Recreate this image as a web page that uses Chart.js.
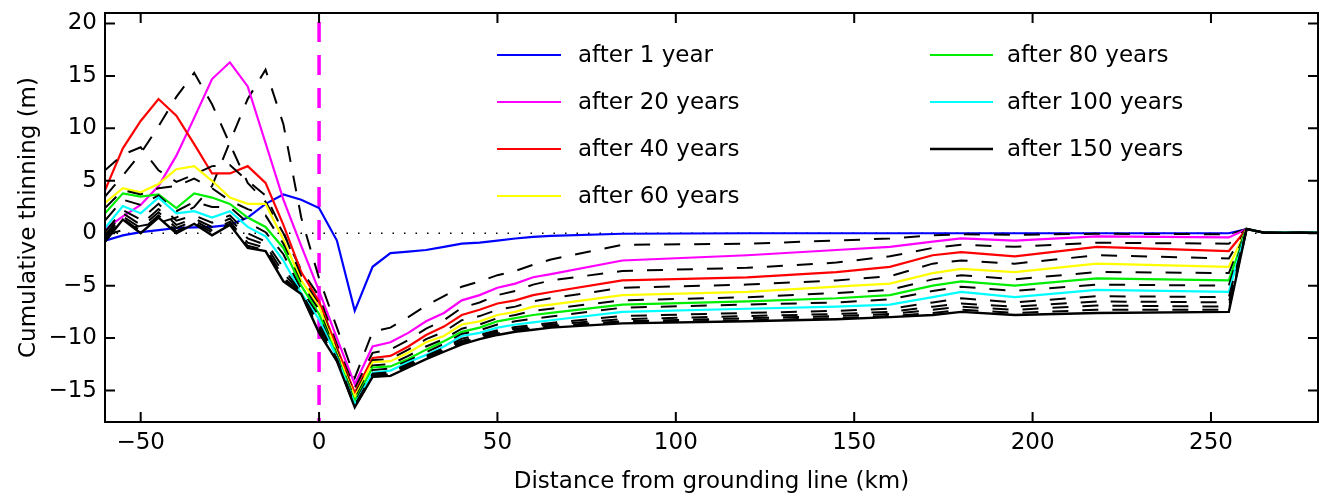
<!DOCTYPE html>
<html><head><meta charset="utf-8">
<script src="https://cdn.jsdelivr.net/npm/chart.js@4.4.1/dist/chart.umd.min.js"></script>
<style>html,body{margin:0;padding:0;background:#fff;overflow:hidden}#wrap{position:relative;width:1319px;height:496px}</style>
</head><body><div id="wrap"><canvas id="c" width="1319" height="496"></canvas></div>
<script>
// distance from grounding line (km)
const X_KM = [-60,-55,-50,-45,-40,-35,-30,-25,-20,-15,-10,-5,0,
  5,10,15,20,25,30,35,40,45,50,55,60,65,
  85,120,145,160,172,180,195,218,255,
  260,265,280];
const X_TICKS = [-50,0,50,100,150,200,250];
const Y_TICKS = [-15,-10,-5,0,5,10,15,20];

// cumulative thinning (m) after N years
const T1 = [-0.7,-0.2,0.1,0.3,0.5,0.55,0.6,0.8,1.5,2.8,3.7,3.2,2.4,
  -0.7,-7.4,-3.2,-1.9,-1.75,-1.6,-1.3,-1.0,-0.9,-0.7,-0.5,-0.35,-0.25,
  -0.05,0,0,0,0,0,0,0,0, 0.4,0.05,0.05];
const T10 = [-0.2,0.3,0.7,1.0,1.5,2.5,4.5,8.7,12.8,15.6,10.4,1.5,-4.3,
  -9.0,-13.8,-9.4,-9.0,-8.0,-6.9,-6.0,-5.1,-4.6,-4.0,-3.6,-3.0,-2.5,
  -1.1,-1.0,-0.7,-0.5,-0.2,-0.1,-0.15,-0.05,-0.1, 0.4,0.05,0.05];
const T20 = [0.4,1.6,2.7,4.5,7.4,11.0,14.7,16.3,14.0,8.6,3.2,-1.2,-5.5,
  -10.0,-14.4,-10.8,-10.4,-9.5,-8.4,-7.6,-6.4,-5.9,-5.2,-4.8,-4.2,-3.9,
  -2.6,-2.1,-1.6,-1.3,-0.8,-0.5,-0.7,-0.3,-0.4, 0.4,0.05,0.05];
const T30 = [3.5,5.5,7.6,10.2,13.0,15.3,12.3,8.5,4.8,3.0,0.0,-3.5,-6.0,
  -10.6,-14.8,-11.4,-11.1,-10.2,-9.1,-8.3,-7.1,-6.6,-5.9,-5.5,-4.9,-4.5,
  -3.6,-3.3,-2.8,-2.2,-1.4,-1.1,-1.3,-0.9,-1.0, 0.4,0.05,0.05];
const T40 = [4.1,8.1,10.7,12.8,11.2,8.5,5.7,5.7,6.4,4.8,0.8,-3.7,-6.5,
  -10.9,-15.2,-11.9,-11.7,-10.8,-9.7,-8.9,-7.8,-7.3,-6.7,-6.4,-5.9,-5.6,
  -4.5,-4.2,-3.7,-3.2,-2.1,-1.8,-2.2,-1.3,-1.7, 0.4,0.05,0.05];
const T50 = [6.0,7.5,8.2,6.0,4.9,5.6,6.4,6.5,5.0,3.6,0.1,-4.1,-6.8,
  -11.2,-15.4,-12.1,-12.0,-11.1,-10.1,-9.4,-8.3,-7.9,-7.3,-7.0,-6.5,-6.2,
  -5.2,-4.9,-4.5,-4.1,-2.9,-2.6,-2.9,-2.1,-2.4, 0.4,0.05,0.05];
const T60 = [2.9,4.3,3.9,4.7,6.1,6.4,5.0,3.4,2.8,2.8,-0.6,-4.5,-7.0,
  -11.4,-15.6,-12.3,-12.2,-11.4,-10.4,-9.8,-8.7,-8.4,-7.8,-7.5,-7.0,-6.8,
  -5.9,-5.6,-5.1,-4.8,-3.8,-3.4,-3.7,-2.9,-3.2, 0.4,0.05,0.05];
const T70 = [2.4,4.1,3.7,4.3,4.5,5.2,4.3,3.1,2.3,1.7,-1.0,-4.8,-7.3,
  -11.6,-15.8,-12.6,-12.5,-11.7,-10.8,-10.1,-9.1,-8.7,-8.1,-7.8,-7.4,-7.2,
  -6.4,-6.1,-5.7,-5.4,-4.4,-4.0,-4.4,-3.7,-3.8, 0.4,0.05,0.05];
const T80 = [1.9,3.8,3.5,3.7,2.4,3.8,3.4,2.8,1.5,0.6,-1.4,-5.0,-7.7,
  -11.7,-16.0,-12.8,-12.7,-12.0,-11.1,-10.3,-9.4,-9.0,-8.4,-8.1,-7.8,-7.6,
  -6.8,-6.5,-6.2,-5.9,-5.0,-4.6,-5.0,-4.3,-4.5, 0.4,0.05,0.05];
const T90 = [1.2,3.2,2.7,3.6,2.1,3.0,2.5,2.5,1.0,0.1,-2.0,-5.4,-7.9,
  -11.8,-16.15,-13.05,-12.9,-12.15,-11.35,-10.55,-9.6,-9.25,-8.7,-8.4,-8.15,-7.95,
  -7.1,-6.8,-6.6,-6.3,-5.5,-5.1,-5.5,-4.9,-5.0, 0.4,0.05,0.05];
const T100 = [0.5,2.6,1.9,3.4,1.9,2.1,1.5,2.1,0.6,-0.3,-2.6,-5.7,-8.2,
  -11.9,-16.3,-13.3,-13.1,-12.3,-11.6,-10.8,-9.8,-9.5,-9.0,-8.7,-8.5,-8.3,
  -7.5,-7.2,-7.0,-6.8,-6.1,-5.6,-6.1,-5.4,-5.6, 0.4,0.05,0.05];
const T110 = [0.1,2.2,1.3,2.8,1.2,1.7,1.0,1.7,0.0,-0.8,-3.3,-5.7,-8.6,
  -12.0,-16.4,-13.4,-13.25,-12.45,-11.7,-10.95,-10.05,-9.7,-9.25,-8.95,-8.75,-8.55,
  -7.9,-7.6,-7.4,-7.2,-6.6,-6.2,-6.6,-6.0,-6.1, 0.4,0.05,0.05];
const T120 = [-0.2,1.9,0.8,2.3,0.8,1.4,0.6,1.4,-0.5,-1.1,-3.8,-5.7,-8.9,
  -12.05,-16.45,-13.5,-13.35,-12.55,-11.8,-11.05,-10.25,-9.85,-9.4,-9.1,-8.9,-8.7,
  -8.2,-7.9,-7.7,-7.5,-7.0,-6.7,-7.0,-6.5,-6.6, 0.4,0.05,0.05];
const T130 = [-0.4,1.6,0.5,2.0,0.5,1.2,0.3,1.1,-0.9,-1.4,-4.2,-5.8,-9.2,
  -12.1,-16.5,-13.55,-13.45,-12.65,-11.9,-11.15,-10.4,-9.95,-9.55,-9.25,-9.05,-8.85,
  -8.4,-8.1,-7.9,-7.7,-7.3,-7.0,-7.3,-6.9,-7.0, 0.4,0.05,0.05];
const T140 = [-0.6,1.4,0.2,1.7,0.2,1.0,0.1,0.9,-1.2,-1.6,-4.4,-5.8,-9.4,
  -12.15,-16.55,-13.65,-13.55,-12.75,-11.95,-11.25,-10.5,-10.05,-9.65,-9.35,-9.15,-8.95,
  -8.5,-8.3,-8.1,-7.9,-7.6,-7.3,-7.6,-7.3,-7.3, 0.4,0.05,0.05];
const T150 = [-0.8,1.3,0.0,1.5,0.0,0.9,-0.2,0.8,-1.4,-1.7,-4.6,-5.8,-9.5,
  -12.2,-16.6,-13.7,-13.6,-12.8,-12.0,-11.3,-10.6,-10.1,-9.7,-9.4,-9.2,-9.0,
  -8.6,-8.4,-8.2,-8.0,-7.8,-7.5,-7.8,-7.6,-7.5, 0.4,0.05,0.05];

const SERIES = [
  {label:'after 1 year',    values:T1,   color:'#0000ff', dashed:false},
  {label:'after 10 years',  values:T10,  color:'#000000', dashed:true},
  {label:'after 20 years',  values:T20,  color:'#ff00ff', dashed:false},
  {label:'after 30 years',  values:T30,  color:'#000000', dashed:true},
  {label:'after 40 years',  values:T40,  color:'#ff0000', dashed:false},
  {label:'after 50 years',  values:T50,  color:'#000000', dashed:true},
  {label:'after 60 years',  values:T60,  color:'#ffff00', dashed:false},
  {label:'after 70 years',  values:T70,  color:'#000000', dashed:true},
  {label:'after 80 years',  values:T80,  color:'#00ee00', dashed:false},
  {label:'after 90 years',  values:T90,  color:'#000000', dashed:true},
  {label:'after 100 years', values:T100, color:'#00ffff', dashed:false},
  {label:'after 110 years', values:T110, color:'#000000', dashed:true},
  {label:'after 120 years', values:T120, color:'#000000', dashed:true},
  {label:'after 130 years', values:T130, color:'#000000', dashed:true},
  {label:'after 140 years', values:T140, color:'#000000', dashed:true},
  {label:'after 150 years', values:T150, color:'#000000', dashed:false}
];
const GROUNDING_LINE_KM = 0;
const ZERO_LEVEL = 0;

const FONT = {family:'"DejaVu Sans", sans-serif', size:23};
const fmt = v => (v < 0 ? '\u2212' + Math.abs(v) : String(v));
const widthOf = s => s.dashed ? 2 : (s.color === '#000000' ? 2.4 : 2.2);

const datasets = SERIES.map((s, i) => ({
  label: s.label,
  data: X_KM.map((x, k) => ({x: x, y: s.values[k]})),
  borderColor: s.color,
  backgroundColor: s.color,
  borderWidth: widthOf(s),
  borderDash: s.dashed ? [16, 14] : [],
  pointRadius: 0,
  tension: 0,
  fill: false,
  order: SERIES.length - i
}));

const frame = {
  id: 'frame',
  beforeDatasetsDraw(chart) {
    const {ctx, chartArea: a, scales: {x, y}} = chart;
    ctx.save();
    ctx.strokeStyle = '#000';
    ctx.lineWidth = 1.5;
    ctx.setLineDash([1.5, 10]);
    const y0 = y.getPixelForValue(ZERO_LEVEL);
    ctx.beginPath(); ctx.moveTo(a.left, y0); ctx.lineTo(a.right, y0); ctx.stroke();
    ctx.strokeStyle = '#ff00ff';
    ctx.lineWidth = 3.5;
    ctx.setLineDash([20, 13]);
    const xg = x.getPixelForValue(GROUNDING_LINE_KM);
    ctx.beginPath(); ctx.moveTo(xg, a.top + 9); ctx.lineTo(xg, a.bottom); ctx.stroke();
    ctx.restore();
  },
  afterDraw(chart) {
    const {ctx, chartArea: a, scales: {x, y}} = chart;
    ctx.save();
    ctx.strokeStyle = '#000';
    ctx.lineWidth = 2;
    ctx.setLineDash([]);
    ctx.strokeRect(a.left, a.top, a.right - a.left, a.bottom - a.top);
    const L = 10;
    ctx.beginPath();
    X_TICKS.forEach(v => {
      const px = x.getPixelForValue(v);
      ctx.moveTo(px, a.bottom); ctx.lineTo(px, a.bottom - L);
      ctx.moveTo(px, a.top); ctx.lineTo(px, a.top + L);
    });
    Y_TICKS.forEach(v => {
      const py = y.getPixelForValue(v);
      ctx.moveTo(a.left, py); ctx.lineTo(a.left + L, py);
      ctx.moveTo(a.right, py); ctx.lineTo(a.right - L, py);
    });
    ctx.stroke();
    const items = SERIES.filter(s => !s.dashed);
    const cols = [{x0: 497, x1: 561, tx: 578}, {x0: 930, x1: 993, tx: 1007}];
    const rows = [55, 102, 149, 196];
    ctx.font = FONT.size + 'px ' + FONT.family;
    ctx.textBaseline = 'middle';
    ctx.textAlign = 'left';
    items.forEach((s, i) => {
      const c = cols[i < 4 ? 0 : 1];
      const ry = rows[i < 4 ? i : i - 4];
      ctx.strokeStyle = s.color;
      ctx.lineWidth = widthOf(s);
      ctx.beginPath(); ctx.moveTo(c.x0, ry); ctx.lineTo(c.x1, ry); ctx.stroke();
      ctx.fillStyle = '#000';
      ctx.fillText(s.label, c.tx, ry + 1);
    });
    ctx.restore();
  }
};

new Chart(document.getElementById('c'), {
  type: 'line',
  data: {datasets},
  options: {
    responsive: false,
    animation: false,
    devicePixelRatio: 1,
    layout: {padding: {top: 13, right: 1, left: 0, bottom: 0}},
    plugins: {legend: {display: false}, tooltip: {enabled: false}},
    scales: {
      x: {
        type: 'linear', min: -60, max: 280,
        afterBuildTicks: s => { s.ticks = X_TICKS.map(v => ({value: v})); },
        afterFit: s => { s.height = 74; s.paddingLeft = 0; s.paddingRight = 0; },
        grid: {display: false, drawTicks: false},
        border: {display: false},
        ticks: {font: FONT, color: '#000', padding: 7, maxRotation: 0, autoSkip: false, callback: v => fmt(v)},
        title: {display: true, text: 'Distance from grounding line (km)', font: FONT, color: '#000', padding: {top: 4, bottom: 0}}
      },
      y: {
        type: 'linear', min: -18, max: 21,
        afterBuildTicks: s => { s.ticks = Y_TICKS.map(v => ({value: v})); },
        afterFit: s => { s.width = 105; s.paddingTop = 0; s.paddingBottom = 0; },
        grid: {display: false, drawTicks: false},
        border: {display: false},
        ticks: {font: FONT, color: '#000', padding: 8, autoSkip: false, callback: v => fmt(v)},
        title: {display: true, text: 'Cumulative thinning (m)', font: FONT, color: '#000', padding: {top: 15, bottom: 0}}
      }
    }
  },
  plugins: [frame]
});
</script></body></html>
